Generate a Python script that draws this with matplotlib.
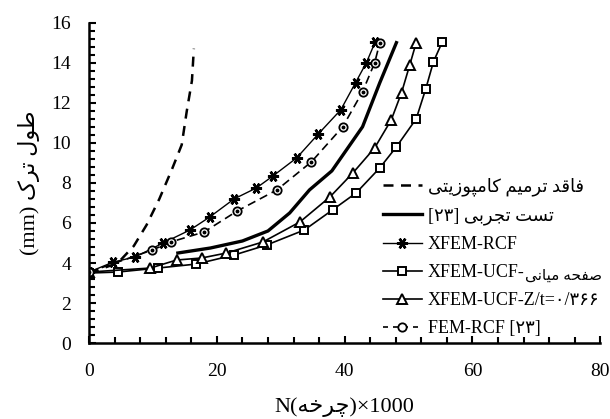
import matplotlib
matplotlib.use("Agg")
import matplotlib.pyplot as plt
from matplotlib.lines import Line2D
from matplotlib.ticker import MultipleLocator

plt.rcParams['font.family'] = ['Liberation Serif', 'DejaVu Sans']

# data (N x1000 cycles, crack length mm)
no_repair_x = [0, 4.5, 7, 9, 11, 13, 14.5, 15.3, 16.1, 16.4]
no_repair_y = [3.5, 4.0, 4.85, 5.9, 7.2, 8.7, 9.9, 11.6, 13.1, 14.7]

exp_x = [13.9, 19, 24, 28, 31.4, 34.5, 38, 42.8, 45.5, 48.1]
exp_y = [4.5, 4.75, 5.1, 5.6, 6.5, 7.65, 8.6, 10.8, 13.0, 15.0]

xrcf_x = [0, 3.8, 7.2, 11.6, 15.8, 18.9, 22.7, 26.2, 28.8, 32.5, 35.9, 39.4, 41.7, 43.4, 44.8]
xrcf_y = [3.55, 4.05, 4.3, 5.0, 5.65, 6.3, 7.2, 7.75, 8.35, 9.25, 10.45, 11.65, 13.0, 14.0, 15.05]

ucf_mid_x = [0, 4.5, 10.8, 16.8, 22.7, 27.8, 33.7, 38.1, 41.8, 45.5, 48.1, 51.2, 52.7, 53.9, 55.3]
ucf_mid_y = [3.5, 3.55, 3.75, 3.95, 4.4, 4.9, 5.65, 6.65, 7.5, 8.75, 9.8, 11.2, 12.7, 14.05, 15.05]

ucf_z_x = [0, 9.6, 13.7, 17.6, 21.5, 27.2, 33.0, 37.7, 41.3, 44.7, 47.3, 48.9, 50.2, 51.2]
ucf_z_y = [3.55, 3.75, 4.15, 4.25, 4.5, 5.05, 6.05, 7.3, 8.5, 9.75, 11.15, 12.5, 13.9, 15.0]

fem_x = [0, 9.9, 12.8, 18.0, 23.2, 29.4, 34.8, 39.7, 42.8, 44.7, 45.5]
fem_y = [3.55, 4.65, 5.05, 5.55, 6.6, 7.65, 9.05, 10.8, 12.55, 14.0, 15.0]

x_ticks = [0, 20, 40, 60, 80]
y_ticks = [0, 2, 4, 6, 8, 10, 12, 14, 16]

# persian text, shaped and in visual order
lbl_no_repair = ("\uFBFD\uFE98\uFBFE\uFEAF\uFEEE\uFB59\uFEE3\uFE8E\uFB90 "
                 "\uFEE2\uFBFF\uFEE3\uFEAE\uFE97 "
                 "\uFEAA\uFED7\uFE8E\uFED3")
lbl_exp = "[\u06F2\u06F3] \uFBFD\uFE91\uFEAE\uFEA0\uFE97 \uFE96\uFEB4\uFE97"
lbl_xrcf = "XFEM-RCF"
lbl_mid = "XFEM-UCF-"
lbl_mid_fa = "\uFBFD\uFEE7\uFE8E\uFBFF\uFEE3 \uFEEA\uFEA4\uFED4\uFEBB"
lbl_z = "XFEM-UCF-Z/t=\u06F0/\u06F3\u06F6\u06F6"
lbl_fem = "FEM-RCF [\u06F2\u06F3]"
ylabel = "(mm) \uFB8E\uFEAE\uFE97 \uFEDD\uFEEE\uFEC3"
xlabel = "N(\uFEEA\uFEA7\uFEAE\uFB7C)\u00d71000"

fig = plt.figure(figsize=(6.1, 4.19), dpi=100)
ax = fig.add_axes([0.146, 0.181, 0.838, 0.765])

ax.plot(no_repair_x, no_repair_y, color='black', lw=1.8, ls=(0, (4, 3)))
ax.plot(exp_x, exp_y, color='black', lw=2.4)
ax.plot(xrcf_x, xrcf_y, color='black', lw=1, marker=(6, 2, 90), ms=8, mew=1.8)
ax.plot(ucf_mid_x, ucf_mid_y, color='black', lw=1.2, marker='s', ms=6,
        mfc='white', mew=1.4)
ax.plot(ucf_z_x, ucf_z_y, color='black', lw=1.2, marker='^', ms=7,
        mfc='white', mew=1.4)
ax.plot(fem_x, fem_y, color='black', lw=1.2, ls=(0, (5, 3)), marker='o', ms=6,
        mfc='white', mew=1.3)
ax.plot(fem_x, fem_y, ls='none', marker='o', ms=1.8, color='black')

ax.set_xlim(0, 80)
ax.set_ylim(0, 16)
ax.set_xticks(x_ticks)
ax.set_yticks(y_ticks)
ax.xaxis.set_minor_locator(MultipleLocator(4))
ax.yaxis.set_minor_locator(MultipleLocator(0.4))
ax.tick_params(which='both', direction='in', width=1.5, labelsize=14)
ax.tick_params(which='major', length=5)
ax.tick_params(which='minor', length=4)
ax.tick_params(axis='x', pad=14)
ax.tick_params(axis='y', pad=13)
for s in ['top', 'right']:
    ax.spines[s].set_visible(False)
for s in ['left', 'bottom']:
    ax.spines[s].set_linewidth(1.8)

ax.set_xlabel(xlabel, fontsize=16, labelpad=13)
ax.set_ylabel(ylabel, fontsize=16, labelpad=8)

handles = [
    Line2D([], [], color='black', lw=1.8, ls=(0, (4, 3))),
    Line2D([], [], color='black', lw=2.4),
    Line2D([], [], color='black', lw=1, marker=(6, 2, 90), ms=8, mew=1.8),
    Line2D([], [], color='black', lw=1.2, marker='s', ms=6, mfc='white', mew=1.4),
    Line2D([], [], color='black', lw=1.2, marker='^', ms=7, mfc='white', mew=1.4),
    Line2D([], [], color='black', lw=1.2, ls=(0, (3, 3)), marker='o', ms=6,
           mfc='white', mew=1.3),
]
labels = [lbl_no_repair, lbl_exp, lbl_xrcf, lbl_mid, lbl_z, lbl_fem]
leg = ax.legend(handles, labels, loc='upper left', bbox_to_anchor=(0.56, 0.54),
                frameon=False, fontsize=13, handlelength=2.2, handletextpad=0.3,
                labelspacing=0.62, borderaxespad=0)
# persian tail of the 4th label, smaller, right after the latin part
ax.annotate(lbl_mid_fa, xy=(1, 0.3), xycoords=leg.get_texts()[3],
            xytext=(0.5, 0), textcoords='offset points',
            ha='left', va='center', fontsize=11, zorder=10)

fig.canvas.draw()
fig.savefig("out.png", dpi=100)
